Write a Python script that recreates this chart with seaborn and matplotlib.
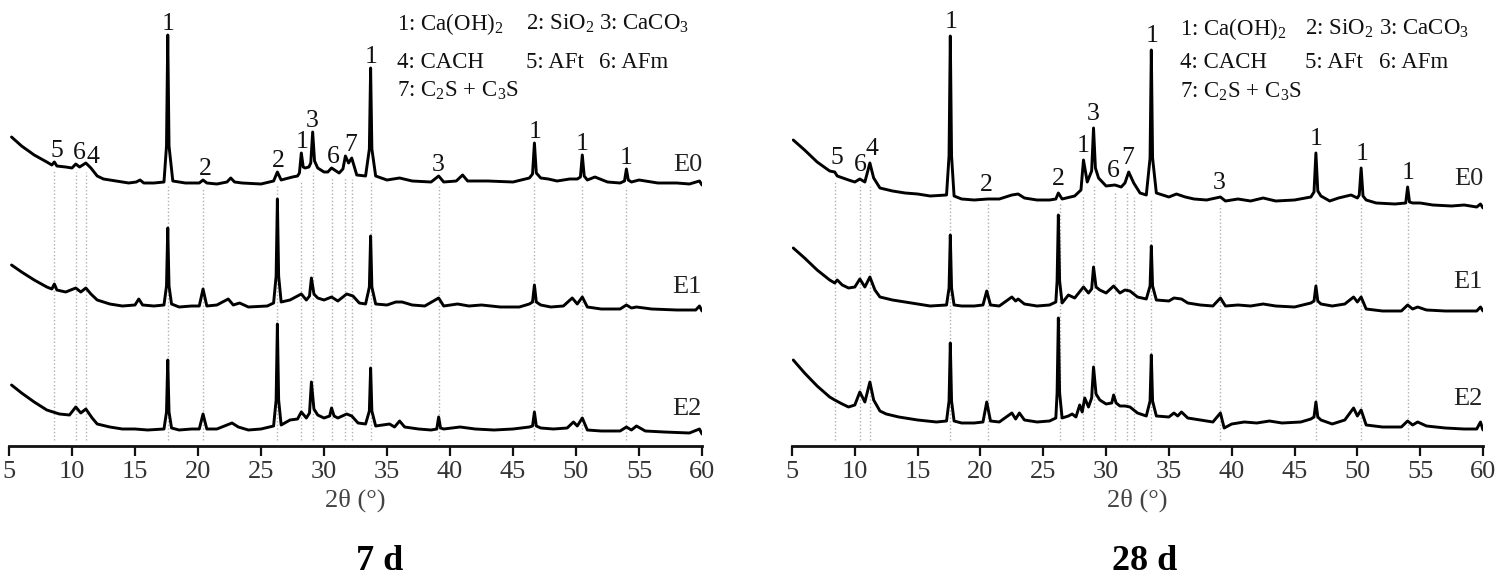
import numpy as np
import pandas as pd
import matplotlib
matplotlib.use("Agg")
import matplotlib.pyplot as plt
import seaborn as sns

# XRD patterns: (2theta, intensity above the pattern's own base)
e0_7d = [(5.2, 54), (6.0, 45), (7.0, 36), (8.0, 29), (8.4, 26), (8.6, 29), (8.8, 25), (9.5, 24), (10.0, 23),
         (10.3, 27), (10.6, 24), (11.1, 28), (11.5, 23), (12.0, 15), (12.5, 12), (13.5, 10), (14.5, 8), (15.1, 9),
         (15.4, 11), (15.7, 8), (16.5, 8), (17.3, 9), (17.5, 45), (17.6, 156), (17.7, 45), (18.0, 10), (19.0, 8),
         (20.1, 8), (20.4, 11), (20.7, 8), (21.5, 7), (22.3, 9), (22.6, 13), (22.9, 9), (23.5, 8), (25.0, 7),
         (26.0, 10), (26.3, 19), (26.6, 11), (27.5, 14), (27.9, 15), (28.05, 18), (28.2, 38), (28.35, 24),
         (28.5, 23), (28.8, 24), (28.95, 28), (29.1, 59), (29.25, 30), (29.5, 23), (30.0, 19), (30.3, 19),
         (30.6, 23), (31.2, 18), (31.5, 22), (31.7, 35), (31.95, 28), (32.2, 33), (32.6, 16), (33.3, 15),
         (33.6, 42), (33.7, 123), (33.8, 42), (34.1, 15), (35.0, 11), (36.0, 13), (37.0, 10), (38.5, 9), (39.1, 15),
         (39.5, 9), (40.5, 10), (41.0, 16), (41.4, 10), (43.0, 10), (45.0, 9), (46.3, 13), (46.55, 17), (46.7, 48),
         (46.85, 18), (47.2, 13), (47.8, 12), (48.5, 10), (49.5, 12), (50.1, 12), (50.35, 14), (50.5, 36),
         (50.65, 15), (50.9, 11), (51.5, 14), (52.5, 9), (53.5, 8), (53.85, 10), (54.0, 22), (54.15, 11), (54.4, 9),
         (55.0, 11), (56.5, 8), (58.0, 8), (59.0, 7), (59.8, 10), (60.0, 6)]
e1_7d = [(5.2, 51), (6.0, 44), (7.0, 36), (8.0, 29), (8.4, 27), (8.6, 32), (8.8, 26), (9.5, 24), (10.3, 28),
         (10.7, 24), (11.1, 28), (11.5, 22), (12.0, 16), (13.0, 12), (14.0, 10), (15.0, 11), (15.3, 17), (15.6, 11),
         (16.5, 10), (17.3, 11), (17.5, 30), (17.6, 88), (17.7, 30), (17.9, 12), (18.5, 9), (19.5, 10), (20.1, 10),
         (20.4, 27), (20.7, 10), (21.5, 11), (22.4, 17), (22.8, 11), (23.3, 13), (24.0, 9), (25.5, 10), (26.0, 13),
         (26.2, 40), (26.3, 117), (26.4, 40), (26.6, 14), (27.3, 16), (28.2, 22), (28.6, 16), (28.85, 20),
         (29.0, 38), (29.2, 22), (29.5, 18), (30.0, 16), (30.6, 19), (31.1, 15), (31.8, 22), (32.3, 20), (32.8, 13),
         (33.3, 12), (33.6, 29), (33.7, 80), (33.8, 29), (34.1, 12), (35.0, 11), (35.7, 14), (36.2, 14), (37.0, 11),
         (38.0, 10), (39.1, 18), (39.5, 10), (40.6, 12), (41.5, 10), (42.5, 11), (44.0, 9), (45.5, 9), (46.3, 12),
         (46.55, 14), (46.7, 31), (46.85, 14), (47.2, 11), (48.0, 9), (49.0, 10), (49.7, 18), (50.1, 12),
         (50.5, 19), (50.9, 9), (52.0, 7), (53.5, 7), (54.0, 11), (54.4, 8), (54.8, 9), (56.0, 7), (58.0, 6),
         (59.5, 6), (59.8, 10), (60.0, 5)]
e2_7d = [(5.2, 56), (6.0, 48), (7.0, 39), (8.0, 31), (9.0, 27), (9.8, 26), (10.3, 34), (10.7, 28), (11.1, 32),
         (11.6, 23), (12.0, 17), (13.0, 14), (14.0, 12), (15.0, 12), (16.0, 11), (17.3, 12), (17.5, 29), (17.6, 81),
         (17.7, 29), (17.9, 13), (18.5, 11), (19.5, 12), (20.1, 12), (20.4, 27), (20.7, 12), (21.5, 12), (22.7, 18),
         (23.2, 14), (24.0, 11), (25.0, 12), (26.0, 15), (26.2, 41), (26.3, 117), (26.4, 41), (26.6, 16), (27.3, 21),
         (27.9, 22), (28.2, 29), (28.6, 23), (28.85, 28), (29.0, 59), (29.2, 32), (29.5, 26), (30.0, 23),
         (30.45, 25), (30.6, 33), (30.8, 25), (31.1, 23), (31.8, 27), (32.2, 25), (32.7, 18), (33.3, 17),
         (33.6, 30), (33.7, 73), (33.8, 30), (34.1, 15), (35.2, 17), (35.6, 14), (36.0, 20), (36.4, 14), (37.5, 12),
         (38.5, 11), (38.95, 12), (39.1, 24), (39.25, 13), (39.5, 12), (40.8, 14), (42.0, 12), (43.5, 11),
         (45.0, 12), (46.3, 14), (46.55, 15), (46.7, 29), (46.85, 15), (47.2, 13), (48.2, 12), (49.3, 13),
         (49.8, 19), (50.1, 15), (50.5, 23), (50.9, 11), (52.0, 10), (53.5, 10), (54.0, 14), (54.4, 11), (54.8, 15),
         (55.5, 10), (57.0, 9), (59.0, 8), (59.8, 12), (60.0, 7)]

e0_28d = [(5.1, 76), (6.0, 66), (7.0, 54), (8.0, 45), (8.4, 44), (8.6, 40), (9.5, 36), (10.0, 34), (10.4, 37),
          (10.8, 34), (11.2, 53), (11.5, 38), (12.0, 28), (13.0, 25), (14.0, 23), (15.0, 22), (16.0, 20), (17.3, 21),
          (17.5, 60), (17.6, 180), (17.7, 60), (17.9, 20), (18.5, 17), (19.5, 16), (20.6, 17), (21.5, 17), (22.5, 21),
          (23.0, 22), (23.5, 18), (24.5, 16), (25.5, 16), (26.0, 17), (26.2, 23), (26.5, 17), (27.5, 20), (28.0, 26),
          (28.2, 56), (28.5, 34), (28.85, 45), (29.0, 88), (29.15, 48), (29.4, 38), (30.0, 30), (30.7, 31),
          (31.2, 29), (31.5, 33), (31.8, 44), (32.2, 33), (32.7, 23), (33.2, 21), (33.5, 58), (33.6, 166),
          (33.7, 58), (34.0, 23), (35.0, 19), (35.6, 22), (36.3, 19), (37.0, 17), (38.0, 16), (39.1, 19), (39.5, 15),
          (40.5, 17), (41.5, 15), (42.5, 18), (43.5, 15), (45.0, 16), (46.3, 19), (46.55, 24), (46.7, 63),
          (46.85, 25), (47.1, 20), (47.8, 15), (48.5, 18), (49.5, 21), (50.0, 18), (50.15, 21), (50.3, 48),
          (50.45, 20), (50.7, 16), (51.5, 13), (53.0, 12), (53.85, 13), (54.0, 29), (54.15, 14), (54.4, 13),
          (55.0, 13), (56.0, 11), (57.5, 10), (58.5, 11), (59.5, 9), (59.8, 12), (60.0, 8)]
e1_28d = [(5.1, 68), (6.0, 58), (7.0, 46), (8.0, 36), (8.4, 33), (8.6, 36), (9.0, 31), (9.5, 28), (10.0, 29),
          (10.4, 37), (10.8, 29), (11.2, 39), (11.6, 26), (12.0, 19), (13.0, 16), (14.0, 14), (15.0, 12), (16.0, 10),
          (17.3, 11), (17.5, 28), (17.6, 81), (17.7, 28), (17.9, 11), (18.5, 10), (19.5, 10), (20.2, 11), (20.5, 25),
          (20.8, 11), (21.5, 10), (22.5, 19), (22.8, 15), (23.0, 17), (23.5, 12), (24.5, 10), (25.5, 11), (26.0, 14),
          (26.1, 35), (26.2, 101), (26.3, 35), (26.5, 13), (27.0, 21), (27.5, 18), (28.2, 29), (28.6, 23),
          (28.85, 27), (29.0, 49), (29.2, 29), (29.5, 26), (30.0, 23), (30.6, 30), (31.1, 23), (31.5, 26),
          (31.9, 25), (32.5, 19), (33.2, 17), (33.5, 30), (33.6, 70), (33.7, 30), (34.0, 16), (35.0, 15), (35.4, 18),
          (36.0, 17), (36.5, 13), (37.5, 11), (38.5, 10), (39.1, 18), (39.5, 10), (40.5, 11), (41.5, 10), (42.5, 12),
          (43.5, 10), (45.0, 9), (46.3, 13), (46.55, 15), (46.7, 30), (46.85, 15), (47.1, 12), (48.0, 10),
          (49.0, 12), (49.7, 19), (50.0, 14), (50.3, 19), (50.7, 7), (52.0, 5), (53.5, 5), (54.0, 11), (54.4, 7),
          (54.8, 9), (55.5, 6), (57.0, 5), (58.5, 5), (59.5, 5), (59.8, 9), (60.0, 5)]
e2_28d = [(5.1, 76), (6.0, 63), (7.0, 50), (8.0, 39), (8.4, 36), (9.0, 32), (9.5, 29), (10.0, 31), (10.4, 44),
          (10.8, 34), (11.2, 54), (11.5, 36), (12.0, 25), (12.5, 22), (13.5, 19), (15.0, 16), (16.5, 14), (17.3, 15),
          (17.5, 35), (17.6, 93), (17.7, 35), (17.9, 15), (18.5, 13), (19.5, 13), (20.2, 14), (20.5, 34), (20.8, 15),
          (21.5, 14), (22.5, 23), (22.8, 17), (23.1, 23), (23.5, 16), (24.5, 14), (25.5, 15), (26.0, 18), (26.1, 43),
          (26.2, 118), (26.3, 43), (26.5, 18), (27.0, 20), (27.3, 22), (27.6, 19), (27.9, 31), (28.1, 24), (28.3, 38),
          (28.6, 29), (28.85, 38), (29.0, 69), (29.2, 42), (29.5, 36), (30.0, 32), (30.45, 33), (30.6, 41),
          (30.8, 33), (31.1, 30), (31.5, 30), (31.9, 29), (32.5, 23), (33.2, 20), (33.5, 35), (33.6, 81), (33.7, 35),
          (34.0, 20), (35.0, 19), (35.4, 23), (35.7, 20), (36.0, 24), (36.5, 18), (37.5, 16), (38.5, 14), (39.1, 23),
          (39.4, 8), (40.0, 12), (41.0, 14), (42.0, 13), (43.0, 15), (44.0, 13), (45.5, 14), (46.3, 17), (46.55, 19),
          (46.7, 34), (46.85, 19), (47.1, 16), (48.0, 12), (49.0, 16), (49.7, 28), (50.0, 20), (50.3, 26),
          (50.7, 11), (52.0, 9), (53.5, 9), (54.0, 15), (54.4, 11), (54.8, 14), (55.5, 10), (57.0, 8), (58.5, 7),
          (59.5, 7), (59.8, 14), (60.0, 6)]

samples = ["E0", "E1", "E2"]

# reference lines and peak marks
ref_lines_7d = [8.6, 10.3, 11.1, 17.6, 20.4, 26.3, 28.2, 29.1, 30.6, 31.7, 32.2, 33.7, 39.1, 46.7, 50.5, 54.0]
ref_lines_28d = [8.4, 10.4, 11.2, 17.6, 20.6, 26.3, 28.2, 29.0, 30.7, 31.7, 32.2, 33.6, 39.1, 46.7, 50.3, 54.0]
peaks_7d = [("5", 8.8), ("6", 10.55), ("4", 11.65), ("1", 17.6), ("2", 20.6), ("2", 26.4), ("1", 28.25),
            ("3", 29.1), ("6", 30.7), ("7", 32.1), ("1", 33.75), ("3", 39.1), ("1", 46.75), ("1", 50.5), ("1", 54.0)]
peaks_28d = [("5", 8.6), ("6", 10.4), ("4", 11.4), ("1", 17.65), ("2", 20.45), ("2", 26.2), ("1", 28.2),
             ("3", 29.0), ("6", 30.6), ("7", 31.75), ("1", 33.7), ("3", 39.0), ("1", 46.7), ("1", 50.4), ("1", 54.0)]

legend_rows = [["1: Ca(OH)$_2$", "2: SiO$_2$", "3: CaCO$_3$"],
               ["4: CACH", "5: AFt", "6: AFm"],
               ["7: C$_2$S + C$_3$S"]]

sns.set_style("white")
plt.rcParams["font.family"] = ["Liberation Serif", "DejaVu Serif"]
plt.rcParams["mathtext.fontset"] = "custom"
plt.rcParams["mathtext.rm"] = "Liberation Serif"
plt.rcParams["mathtext.it"] = "Liberation Serif:italic"

fig = plt.figure(figsize=(15, 5.77), dpi=100)
W, H = 1500, 577

panels = [
    dict(curves=[e0_7d, e1_7d, e2_7d], offsets=[255, 130, 5], lines=ref_lines_7d, peaks=peaks_7d,
         box=(9, 702), gap=9, label_y=[283, 161, 39], legend_x=[35.8, 46.0, 51.8], legend_y=[424, 386, 357],
         title="7 d", title_x=380),
    dict(curves=[e0_28d, e1_28d, e2_28d], offsets=[230, 130, 10], lines=ref_lines_28d, peaks=peaks_28d,
         box=(792, 1483), gap=12, label_y=[269, 166, 49], legend_x=[35.9, 45.8, 51.7], legend_y=[419, 386, 356],
         title="28 d", title_x=1145),
]

for p in panels:
    x0, x1 = p["box"]
    ax = fig.add_axes([x0 / W, 131 / H, (x1 - x0) / W, 446 / H])

    frames = []
    for name, pts, off in zip(samples, p["curves"], p["offsets"]):
        d = pd.DataFrame(pts, columns=["two_theta", "intensity"])
        d["intensity"] = d["intensity"] + off
        d["sample"] = name
        frames.append(d)
    df = pd.concat(frames, ignore_index=True)

    # dotted guide lines from under the top pattern down to the axis
    top = frames[0]
    for pos in p["lines"]:
        near = top[(top["two_theta"] > pos - 0.6) & (top["two_theta"] < pos + 0.6)]
        y_top = near["intensity"].min() - 4
        ax.vlines(pos, 6, y_top, colors="#b0b0b0", linestyles=(0, (1, 1.6)), linewidth=1.0, zorder=1)

    sns.lineplot(data=df, x="two_theta", y="intensity", units="sample", estimator=None, sort=False,
                 color="black", linewidth=2.1, ax=ax, zorder=3)

    for txt, pos in p["peaks"]:
        near = top[(top["two_theta"] > pos - 0.5) & (top["two_theta"] < pos + 0.5)]
        ax.text(pos, near["intensity"].max() + p["gap"] - 4, txt, ha="center", va="baseline",
                fontsize=18.5, color="#111111")

    for name, ly in zip(samples, p["label_y"]):
        ax.text(60, ly - 2, name, ha="right", va="center", fontsize=19, color="#222222")

    for row, ly in zip(legend_rows, p["legend_y"]):
        for item, lx in zip(row, p["legend_x"]):
            ax.text(lx, ly - 2, item, ha="left", va="center", fontsize=16.5, color="#111111")

    ax.set_xlim(5, 60)
    ax.set_ylim(0, 446)
    ax.set_xticks(range(5, 61, 5))
    ax.set_yticks([])
    for side in ["top", "left", "right"]:
        ax.spines[side].set_visible(False)
    ax.spines["bottom"].set_linewidth(2.0)
    ax.spines["bottom"].set_color("#111111")
    ax.tick_params(axis="x", direction="out", length=7, width=1.6, color="#111111",
                   labelsize=19, labelcolor="#333333", pad=4, bottom=True)
    ax.set_xlabel("2θ (°)", fontsize=19, color="#444444", labelpad=4)
    ax.set_ylabel("")
    ax.patch.set_alpha(0)

    fig.text(p["title_x"] / W, 1 - 561 / H, p["title"], ha="center", va="center",
             fontsize=26, fontweight="bold", color="black")

fig.savefig("out.png", dpi=100)
